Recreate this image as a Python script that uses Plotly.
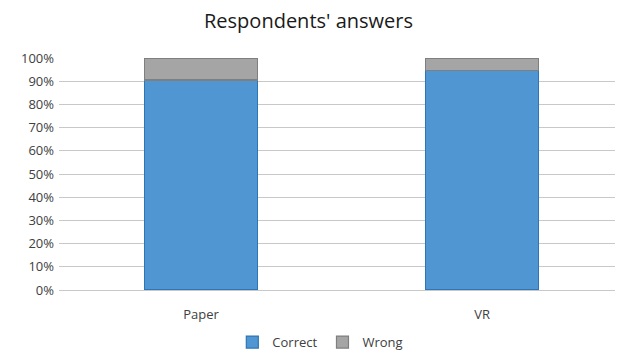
import plotly.graph_objects as go

categories = ["Paper", "VR"]
correct = [90.5, 94.5]
wrong = [9.5, 5.5]
y_ticks = [0, 10, 20, 30, 40, 50, 60, 70, 80, 90, 100]
y_tick_labels = [f"{v}%" for v in y_ticks]

fig = go.Figure()
fig.add_trace(go.Bar(x=categories, y=correct, name="Correct",
                     marker=dict(color="#5096D2", line=dict(color="#2E75B6", width=1.2))))
fig.add_trace(go.Bar(x=categories, y=wrong, name="Wrong",
                     marker=dict(color="#A5A5A5", line=dict(color="#7F7F7F", width=1.2))))

fig.update_layout(
    barmode="stack",
    width=617, height=353,
    margin=dict(l=59, r=2, t=58, b=63, autoexpand=False),
    paper_bgcolor="white", plot_bgcolor="white",
    font=dict(family="Open Sans, Liberation Sans, sans-serif", size=13, color="#404040"),
    title=dict(text="Respondents' answers", x=0.5, xanchor="center", y=0.94, yanchor="middle",
               font=dict(size=20, color="#1a1a1a")),
    bargap=0.6,
    showlegend=True,
    legend=dict(orientation="h", x=0.47, xanchor="center", y=-0.16, yanchor="top",
                font=dict(size=13), itemwidth=30, traceorder="normal"),
    yaxis=dict(range=[0, 100], tickvals=y_ticks, ticktext=y_tick_labels,
               showgrid=True, gridcolor="#C8C8C8", gridwidth=1.3, zeroline=False,
               showline=False, ticks="", ticklen=0, ticklabelstandoff=4, automargin=False),
    xaxis=dict(range=[-0.505, 1.473], showline=True, linecolor="#C8C8C8", linewidth=1.3,
               ticks="", showgrid=False, ticklabelstandoff=12, automargin=False),
)
fig.write_html("out.html")
